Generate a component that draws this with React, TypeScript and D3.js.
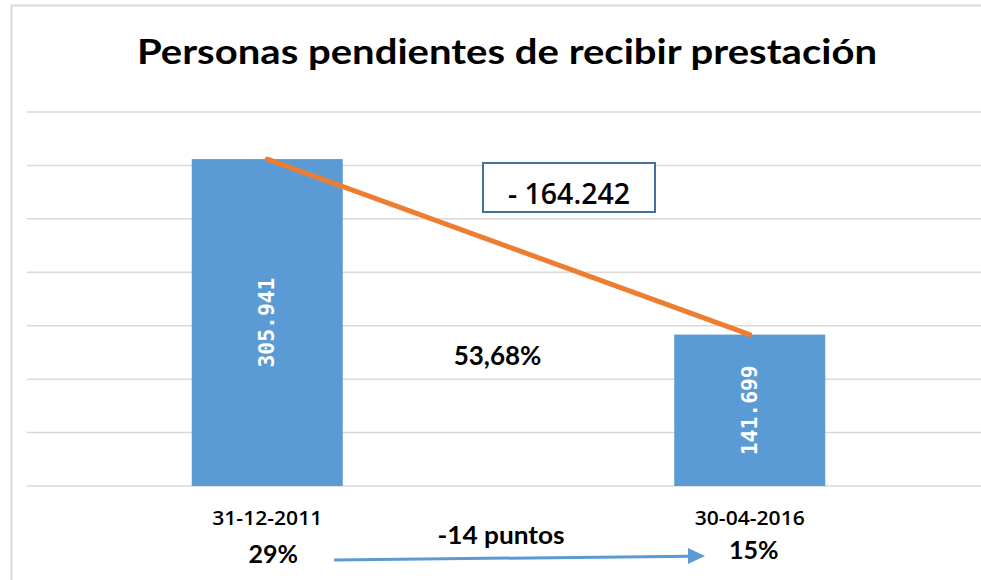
import { useMemo } from "react";
import * as d3 from "d3";

const WIDTH = 981;
const HEIGHT = 580;

// chart data
const categories = ["31-12-2011", "30-04-2016"];
const values = [305941, 141699];
const valueLabels = ["305.941", "141.699"];
const shareLabels = ["29%", "15%"];
const yTicks = [0, 50000, 100000, 150000, 200000, 250000, 300000, 350000];
const title = "Personas pendientes de recibir prestación";
const diffLabel = "- 164.242";
const pctLabel = "53,68%";
const pointsLabel = "-14 puntos";

const BLUE = "#5B9BD5";
const ORANGE = "#ED7D31";
const FONT = "Lato, 'Open Sans', sans-serif";
const FONT2 = "'Open Sans', Lato, sans-serif";

export default function App() {
  // x is a band scale over the two dates, y is linear for people count
  const xScale = useMemo(
    () =>
      d3
        .scaleBand()
        .domain(categories)
        .range([26, 991])
        .paddingInner(0.687)
        .paddingOuter(0.3435),
    []
  );
  const yScale = useMemo(
    () => d3.scaleLinear().domain([0, 350000]).range([486, 112]),
    []
  );

  const cx = (c) => xScale(c) + xScale.bandwidth() / 2;

  const linePath = d3
    .line()
    .x((d) => cx(d.c))
    .y((d) => yScale(d.v))(categories.map((c, i) => ({ c, v: values[i] })));

  // grid
  const grid = yTicks.map((t) => (
    <line
      key={t}
      x1={27}
      x2={WIDTH}
      y1={yScale(t)}
      y2={yScale(t)}
      stroke="#d9d9d9"
      strokeWidth={1.5}
    />
  ));

  const bars = categories.map((c, i) => {
    const y = yScale(values[i]);
    const h = yScale(0) - y;
    return (
      <g key={c}>
        <rect x={xScale(c)} y={y} width={xScale.bandwidth()} height={h} fill={BLUE} />
        <text
          transform={`translate(${cx(c)},${y + h / 2}) rotate(-90)`}
          textAnchor="middle"
          dominantBaseline="central"
          fill="#fff"
          fontFamily="'DejaVu Sans Mono', monospace"
          fontWeight="bold"
          fontSize={21}
          textLength={90}
          lengthAdjust="spacingAndGlyphs"
        >
          {valueLabels[i]}
        </text>
      </g>
    );
  });

  const x0 = cx(categories[0]);
  const x1 = cx(categories[1]);

  return (
    <div style={{ position: "absolute", left: 0, top: 0 }}>
      <svg width={WIDTH} height={HEIGHT} style={{ display: "block" }}>
        <rect x={0} y={0} width={WIDTH} height={HEIGHT} fill="#fff" />
        {/* chart frame */}
        <path d={`M11.5,${HEIGHT}V5.5H${WIDTH}`} fill="none" stroke="#d9d9d9" strokeWidth={2} />
        <text
          x={507}
          y={64}
          textAnchor="middle"
          fontFamily={FONT}
          fontWeight="bold"
          fontSize={34}
          textLength={740}
          lengthAdjust="spacingAndGlyphs"
          fill="#000"
        >
          {title}
        </text>
        {grid}
        {bars}
        <path d={linePath} fill="none" stroke={ORANGE} strokeWidth={5} strokeLinecap="round" />

        {/* difference box */}
        <rect x={483} y={163} width={172} height={49} fill="#fff" stroke="#41719C" strokeWidth={2} />
        <text
          x={569}
          y={204}
          textAnchor="middle"
          fontFamily={FONT2}
          fontWeight={600}
          fontSize={28}
          textLength={122}
          lengthAdjust="spacingAndGlyphs"
          fill="#000"
        >
          {diffLabel}
        </text>

        <text x={(x0 + x1) / 2 - 11} y={365} textAnchor="middle" fontFamily={FONT} fontWeight="bold" fontSize={26} fill="#000">
          {pctLabel}
        </text>

        {/* category labels and shares */}
        {categories.map((c, i) => (
          <g key={c}>
            <text
              x={cx(c)}
              y={525}
              textAnchor="middle"
              fontFamily={FONT2}
              fontWeight={600}
              fontSize={20}
              textLength={110}
              lengthAdjust="spacingAndGlyphs"
              fill="#000"
            >
              {c}
            </text>
            <text
              x={cx(c) + (i === 0 ? 6 : 4)}
              y={i === 0 ? 563 : 559}
              textAnchor="middle"
              fontFamily={FONT}
              fontWeight="bold"
              fontSize={25}
              fill="#000"
            >
              {shareLabels[i]}
            </text>
          </g>
        ))}

        <text
          x={501}
          y={544}
          textAnchor="middle"
          fontFamily={FONT}
          fontWeight="bold"
          fontSize={25}
          textLength={127}
          lengthAdjust="spacingAndGlyphs"
          fill="#000"
        >
          {pointsLabel}
        </text>

        {/* arrow */}
        <line x1={334} y1={560} x2={690} y2={556.2} stroke={BLUE} strokeWidth={3} />
        <path d="M705,556 L688,548 L688,564 Z" fill={BLUE} />
      </svg>
    </div>
  );
}
